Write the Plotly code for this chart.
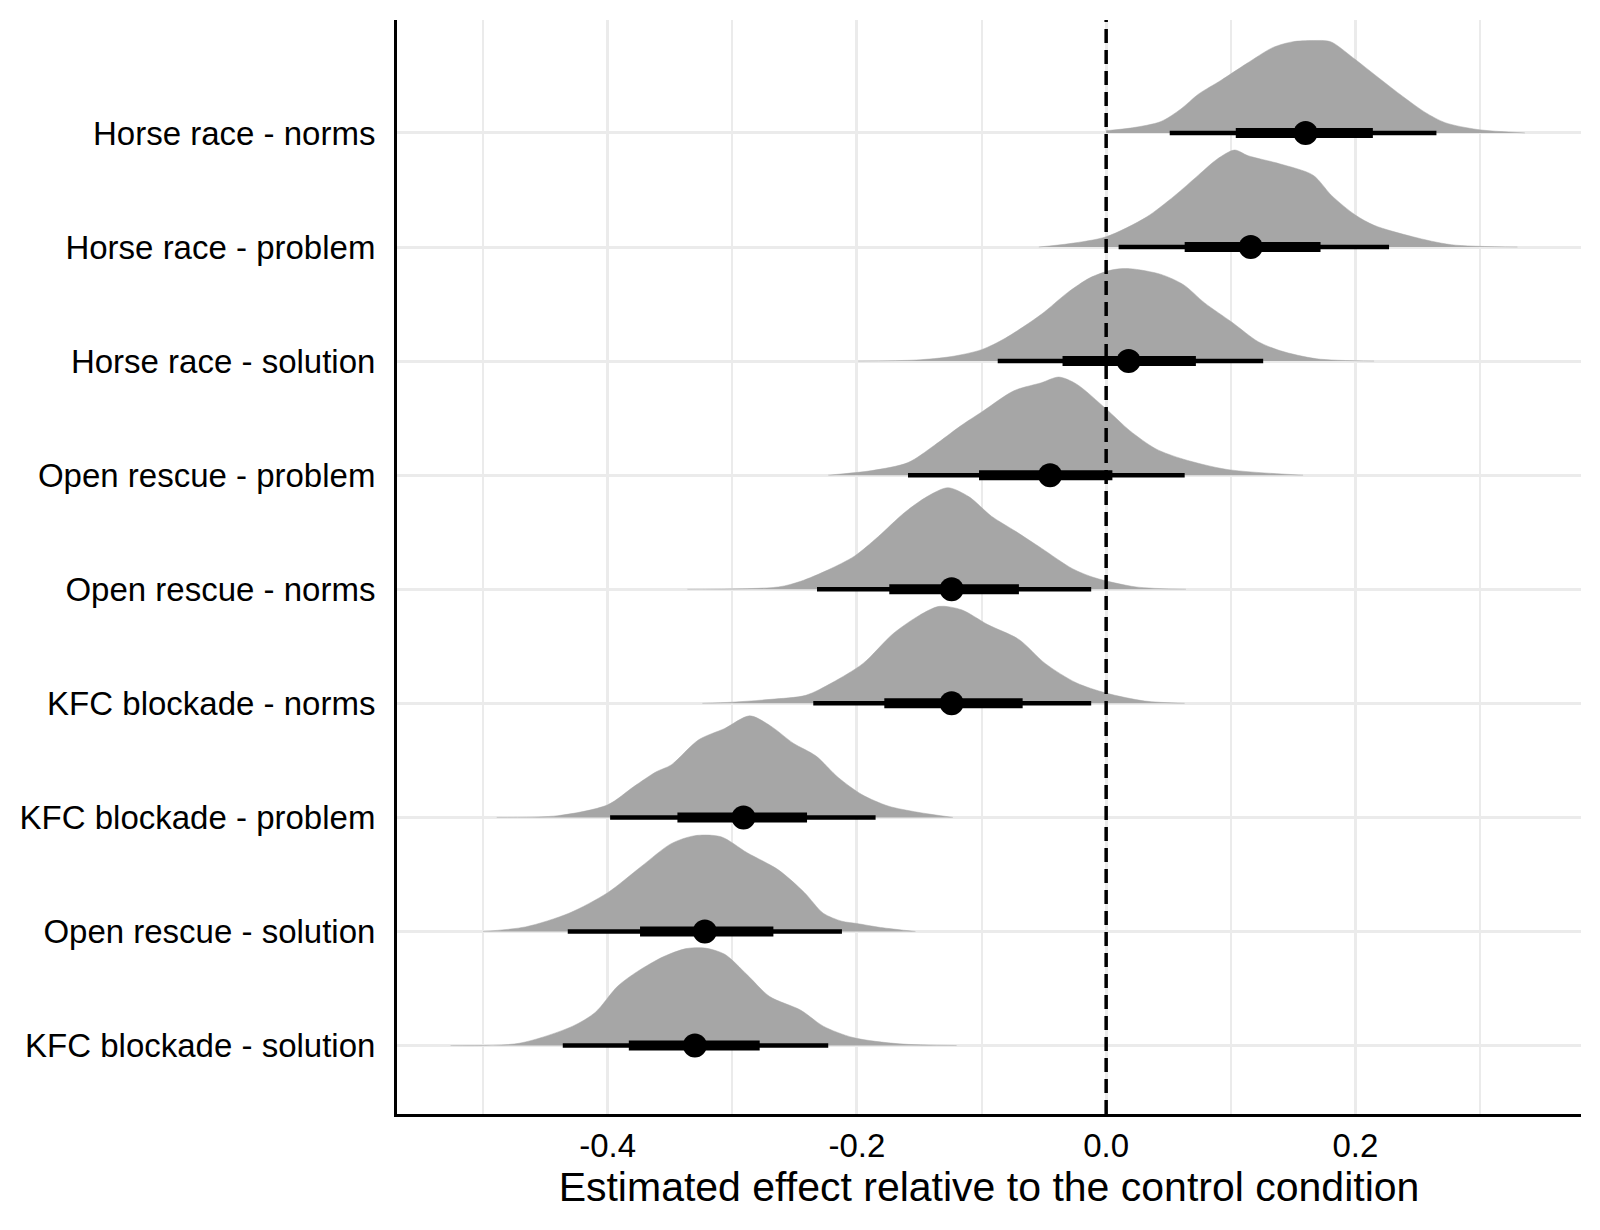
import plotly.graph_objects as go

# ---- categories (top to bottom) ----
categories = [
    "Horse race - norms",
    "Horse race - problem",
    "Horse race - solution",
    "Open rescue - problem",
    "Open rescue - norms",
    "KFC blockade - norms",
    "KFC blockade - problem",
    "Open rescue - solution",
    "KFC blockade - solution",
]

# ---- density outlines (x value, height in row units) ----
hr_norms_x = [0.0, 0.021, 0.044, 0.060, 0.074, 0.092, 0.113, 0.134, 0.150, 0.166, 0.180, 0.198, 0.219, 0.238, 0.256, 0.272, 0.298, 0.336]
hr_norms_h = [0.02, 0.045, 0.10, 0.21, 0.34, 0.46, 0.61, 0.75, 0.80, 0.81, 0.80, 0.66, 0.48, 0.32, 0.18, 0.09, 0.03, 0.0]

hr_problem_x = [-0.054, -0.029, 0.0, 0.032, 0.055, 0.074, 0.089, 0.103, 0.114, 0.139, 0.166, 0.181, 0.20, 0.215, 0.246, 0.277, 0.33]
hr_problem_h = [0.0, 0.03, 0.09, 0.26, 0.45, 0.63, 0.77, 0.85, 0.80, 0.73, 0.63, 0.45, 0.28, 0.19, 0.09, 0.02, 0.0]

hr_solution_x = [-0.199, -0.152, -0.124, -0.1, -0.081, -0.052, -0.031, -0.013, 0.005, 0.019, 0.044, 0.062, 0.079, 0.101, 0.122, 0.14, 0.169, 0.215]
hr_solution_h = [0.0, 0.01, 0.04, 0.10, 0.20, 0.41, 0.60, 0.73, 0.80, 0.81, 0.76, 0.67, 0.51, 0.34, 0.17, 0.09, 0.02, 0.0]

or_problem_x = [-0.223, -0.188, -0.159, -0.138, -0.117, -0.099, -0.074, -0.052, -0.038, -0.024, 0.0, 0.019, 0.040, 0.062, 0.097, 0.158]
or_problem_h = [0.0, 0.04, 0.11, 0.26, 0.43, 0.56, 0.74, 0.81, 0.86, 0.80, 0.58, 0.39, 0.23, 0.14, 0.05, 0.0]

or_norms_x = [-0.336, -0.263, -0.245, -0.223, -0.202, -0.183, -0.162, -0.144, -0.127, -0.110, -0.092, -0.073, -0.052, -0.027, -0.009, 0.024, 0.064]
or_norms_h = [0.0, 0.02, 0.07, 0.17, 0.29, 0.46, 0.67, 0.81, 0.89, 0.81, 0.64, 0.51, 0.36, 0.18, 0.10, 0.02, 0.0]

kfc_norms_x = [-0.324, -0.3, -0.269, -0.241, -0.220, -0.195, -0.171, -0.150, -0.134, -0.116, -0.095, -0.070, -0.049, -0.024, 0.0, 0.031, 0.063]
kfc_norms_h = [0.0, 0.01, 0.035, 0.07, 0.18, 0.35, 0.61, 0.77, 0.85, 0.82, 0.69, 0.56, 0.35, 0.18, 0.09, 0.02, 0.0]

kfc_problem_x = [-0.489, -0.44, -0.4, -0.379, -0.361, -0.349, -0.327, -0.306, -0.286, -0.269, -0.251, -0.233, -0.215, -0.196, -0.175, -0.151, -0.123]
kfc_problem_h = [0.0, 0.015, 0.11, 0.27, 0.40, 0.46, 0.68, 0.78, 0.89, 0.80, 0.65, 0.54, 0.35, 0.20, 0.10, 0.045, 0.0]

or_solution_x = [-0.5, -0.466, -0.431, -0.4, -0.373, -0.349, -0.330, -0.309, -0.288, -0.263, -0.242, -0.227, -0.212, -0.2, -0.181, -0.153]
or_solution_h = [0.0, 0.04, 0.16, 0.34, 0.57, 0.77, 0.84, 0.83, 0.69, 0.54, 0.34, 0.16, 0.09, 0.07, 0.035, 0.0]

kfc_solution_x = [-0.526, -0.471, -0.428, -0.41, -0.392, -0.376, -0.355, -0.337, -0.322, -0.306, -0.288, -0.270, -0.245, -0.227, -0.203, -0.166, -0.12]
kfc_solution_h = [0.0, 0.02, 0.17, 0.29, 0.52, 0.65, 0.78, 0.85, 0.855, 0.80, 0.62, 0.43, 0.31, 0.17, 0.07, 0.015, 0.0]

density_x = [hr_norms_x, hr_problem_x, hr_solution_x, or_problem_x, or_norms_x,
             kfc_norms_x, kfc_problem_x, or_solution_x, kfc_solution_x]
density_h = [hr_norms_h, hr_problem_h, hr_solution_h, or_problem_h, or_norms_h,
             kfc_norms_h, kfc_problem_h, or_solution_h, kfc_solution_h]

# ---- interval summaries: 95% (thin), 66% (thick), median ----
lo95 = [0.051, 0.010, -0.087, -0.159, -0.232, -0.235, -0.398, -0.432, -0.436]
hi95 = [0.265, 0.227, 0.126, 0.063, -0.012, -0.012, -0.185, -0.212, -0.223]
lo66 = [0.104, 0.063, -0.035, -0.102, -0.174, -0.178, -0.344, -0.374, -0.383]
hi66 = [0.214, 0.172, 0.072, 0.005, -0.070, -0.067, -0.240, -0.267, -0.278]
median = [0.160, 0.116, 0.018, -0.045, -0.124, -0.124, -0.291, -0.322, -0.330]

x_tickvals = [-0.4, -0.2, 0.0, 0.2]
x_ticktext = ["-0.4", "-0.2", "0.0", "0.2"]
x_minorvals = [-0.5, -0.3, -0.1, 0.1, 0.3]

n = len(categories)
rows = [n - i for i in range(n)]  # top row has highest position

fig = go.Figure()
SLAB = "#A6A6A6"

for i in range(n):
    b = rows[i]
    xs = density_x[i]
    hs = density_h[i]
    fig.add_trace(go.Scatter(x=[xs[0], xs[-1]], y=[b, b], mode="lines",
                             line=dict(width=0, color=SLAB), hoverinfo="skip",
                             showlegend=False))
    fig.add_trace(go.Scatter(x=xs, y=[b + h for h in hs], mode="lines",
                             line=dict(width=0.5, color=SLAB, shape="spline", smoothing=0.8),
                             fill="tonexty", fillcolor=SLAB, hoverinfo="skip",
                             showlegend=False))

for i in range(n):
    b = rows[i]
    fig.add_trace(go.Scatter(x=[lo95[i], hi95[i]], y=[b, b], mode="lines",
                             line=dict(width=4.5, color="black"), showlegend=False))
    fig.add_trace(go.Scatter(x=[lo66[i], hi66[i]], y=[b, b], mode="lines",
                             line=dict(width=10, color="black"), showlegend=False))
    fig.add_trace(go.Scatter(x=[median[i]], y=[b], mode="markers",
                             marker=dict(size=24, color="black"), showlegend=False))

fig.add_shape(type="line", x0=0, x1=0, y0=0, y1=1, xref="x", yref="paper",
              line=dict(color="black", width=3.5, dash="14px,7px"), layer="above")

FONT = "Liberation Sans, Arial, Helvetica, sans-serif"

fig.update_layout(
    width=1600, height=1230,
    margin=dict(l=387, r=27, t=12, b=124),
    paper_bgcolor="white", plot_bgcolor="white",
    font=dict(family=FONT, color="black"),
    showlegend=False,
    xaxis=dict(
        range=[-0.569, 0.381],
        tickvals=x_tickvals, ticktext=x_ticktext,
        tickfont=dict(size=33, color="black"),
        showgrid=True, gridcolor="#EBEBEB", gridwidth=3,
        minor=dict(tickvals=x_minorvals, showgrid=True, gridcolor="#EBEBEB", gridwidth=1.8, ticks=""),
        showline=True, linecolor="black", linewidth=3,
        ticks="", zeroline=False,
        ticklabelstandoff=0,
        title=dict(text="Estimated effect relative to the control condition",
                   font=dict(size=41, color="black"), standoff=10),
    ),
    yaxis=dict(
        range=[0.4, 9.99],
        tickvals=rows, ticktext=categories,
        tickfont=dict(size=33, color="black"),
        showgrid=True, gridcolor="#EBEBEB", gridwidth=3,
        showline=True, linecolor="black", linewidth=3,
        ticks="", zeroline=False,
        ticklabelstandoff=12,
    ),
)

fig.write_html("out.html")
